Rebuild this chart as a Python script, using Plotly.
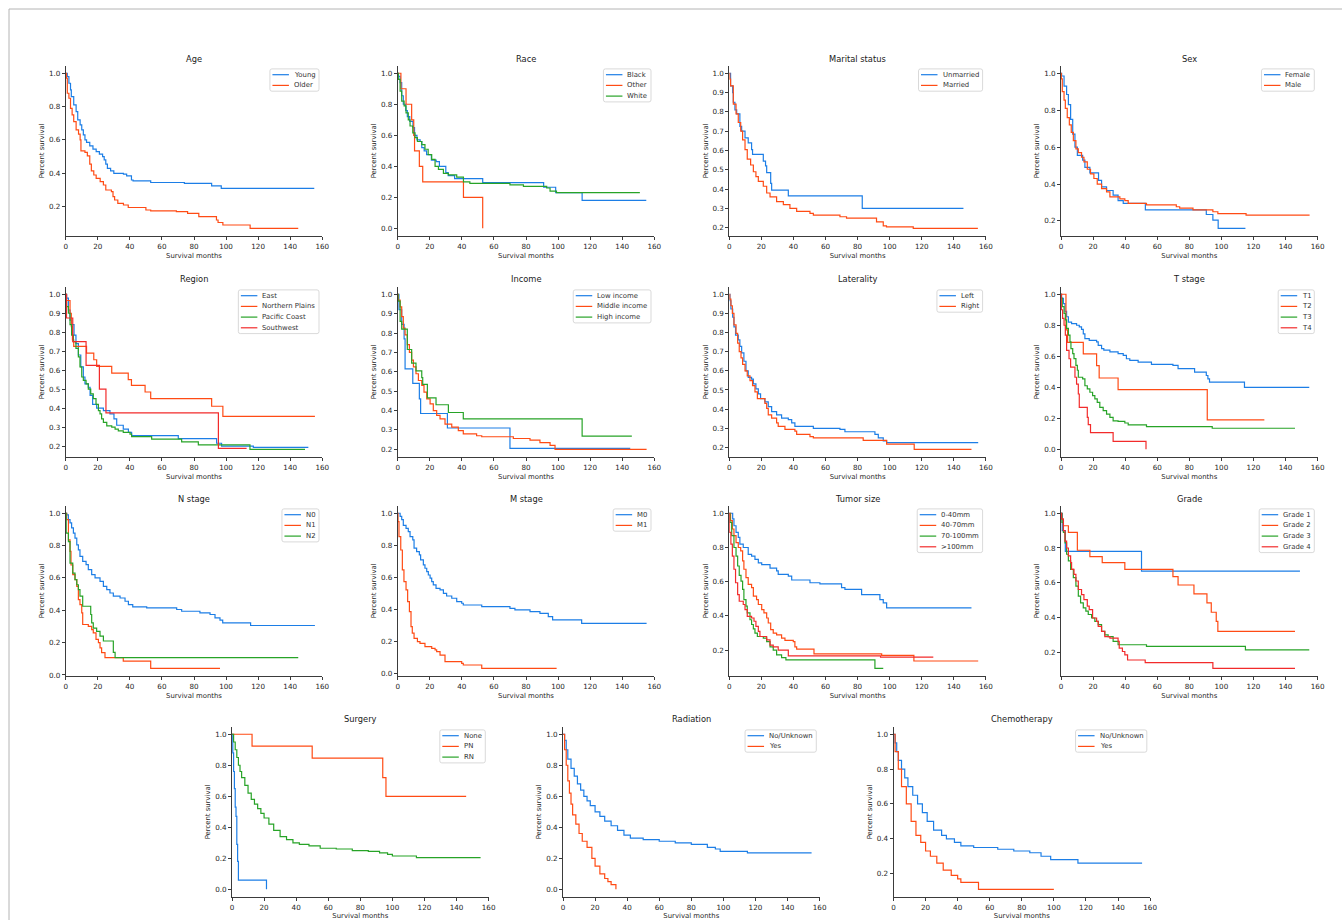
import plotly.graph_objects as go

# ---------------- data ----------------
AGE_YOUNG_T = [0, 1, 2, 3, 3.5, 5, 6.5, 7.5, 9, 10, 11, 12, 13, 15, 17, 19, 21, 23, 24, 25, 26, 28, 30, 36, 38, 41, 42, 53, 74, 91, 97, 155]
AGE_YOUNG_S = [1.0, 0.98, 0.94, 0.90, 0.86, 0.81, 0.77, 0.72, 0.69, 0.66, 0.63, 0.60, 0.585, 0.565, 0.545, 0.53, 0.515, 0.50, 0.48, 0.455, 0.43, 0.415, 0.40, 0.395, 0.385, 0.36, 0.355, 0.345, 0.34, 0.325, 0.31, 0.31]
AGE_OLDER_T = [0, 0.5, 1, 2, 3, 4, 5, 6.5, 8, 9, 9.5, 12, 13.5, 15, 16, 17.5, 19, 21.5, 23.5, 25, 28.5, 29.5, 30.5, 32.5, 36, 39, 50, 53, 69, 76, 83, 94, 95, 98, 115, 145]
AGE_OLDER_S = [1.0, 0.97, 0.88, 0.85, 0.79, 0.75, 0.71, 0.66, 0.635, 0.60, 0.535, 0.525, 0.505, 0.455, 0.415, 0.39, 0.37, 0.35, 0.33, 0.30, 0.29, 0.26, 0.24, 0.22, 0.21, 0.195, 0.18, 0.175, 0.17, 0.16, 0.14, 0.12, 0.105, 0.09, 0.07, 0.07]

RACE_BLACK_T = [0, 0.5, 1.5, 2.5, 3.5, 5, 6, 7.5, 9.5, 10.5, 12, 14, 15, 16.5, 18, 21, 24, 26, 30, 31.5, 35.5, 53, 91, 98.5, 115, 155]
RACE_BLACK_S = [1.0, 0.98, 0.94, 0.855, 0.80, 0.76, 0.72, 0.69, 0.65, 0.60, 0.57, 0.56, 0.52, 0.50, 0.475, 0.44, 0.43, 0.40, 0.36, 0.34, 0.32, 0.295, 0.265, 0.23, 0.18, 0.18]
RACE_OTHER_T = [0, 2, 5.2, 8.7, 10, 10.5, 13.5, 15.6, 41, 53]
RACE_OTHER_S = [1.0, 0.9, 0.8, 0.7, 0.6, 0.5, 0.4, 0.3, 0.2, 0.0]
RACE_WHITE_T = [0, 0.4, 1.5, 2.5, 4, 5.2, 6.6, 7.7, 9.4, 10.8, 12.3, 15, 17, 19, 21.2, 23.3, 25.4, 28.5, 31.6, 36.8, 41, 45, 70, 78.4, 92.9, 95, 99, 151]
RACE_WHITE_S = [1.0, 0.96, 0.885, 0.82, 0.79, 0.745, 0.70, 0.66, 0.615, 0.585, 0.56, 0.54, 0.51, 0.475, 0.445, 0.40, 0.38, 0.355, 0.345, 0.33, 0.30, 0.29, 0.28, 0.27, 0.26, 0.24, 0.23, 0.23]

MAR_UNM_T = [0, 0.8, 2.1, 2.5, 3.5, 4.6, 6.6, 7.7, 9.8, 11.8, 13.9, 14.5, 21.2, 22.6, 23.3, 25.8, 26.4, 36.8, 82.9, 146]
MAR_UNM_S = [1.0, 0.935, 0.90, 0.85, 0.81, 0.79, 0.725, 0.70, 0.665, 0.64, 0.605, 0.58, 0.545, 0.52, 0.485, 0.43, 0.395, 0.365, 0.30, 0.30]
MAR_MAR_T = [0, 0.3, 0.8, 2.5, 4.2, 5.6, 7.1, 8.3, 9.8, 11.2, 13.3, 15, 16.6, 18.1, 21.2, 23.3, 25.4, 29.5, 33.7, 37.8, 42, 50.3, 52.4, 69, 73.1, 91.8, 96, 98, 114.7, 155]
MAR_MAR_S = [1.0, 0.97, 0.935, 0.84, 0.79, 0.745, 0.70, 0.655, 0.605, 0.555, 0.525, 0.49, 0.465, 0.44, 0.415, 0.38, 0.36, 0.335, 0.32, 0.30, 0.285, 0.275, 0.265, 0.257, 0.25, 0.23, 0.21, 0.205, 0.197, 0.197]

SEX_F_T = [0, 0.4, 1.9, 3.5, 4.6, 6, 7.3, 8.7, 10.2, 13.5, 14.9, 18, 23.4, 25.3, 28.4, 32.5, 35.6, 38.8, 52.6, 90.6, 94.7, 98, 115]
SEX_F_S = [1.0, 0.985, 0.93, 0.885, 0.83, 0.75, 0.67, 0.60, 0.555, 0.53, 0.49, 0.46, 0.42, 0.385, 0.365, 0.34, 0.31, 0.295, 0.26, 0.235, 0.205, 0.16, 0.16]
SEX_M_T = [0, 0.2, 0.8, 1.9, 2.7, 3.9, 5.2, 6.4, 7.7, 9.3, 10.8, 12.8, 14.3, 16.4, 18.4, 20.5, 22.6, 25.3, 28.4, 30.5, 36.7, 39.8, 41.9, 53.3, 71.9, 74, 82.3, 94.7, 97.8, 115.4, 155]
SEX_M_S = [1.0, 0.97, 0.90, 0.855, 0.81, 0.76, 0.72, 0.68, 0.635, 0.59, 0.57, 0.545, 0.52, 0.48, 0.455, 0.43, 0.40, 0.375, 0.357, 0.33, 0.32, 0.31, 0.295, 0.287, 0.277, 0.27, 0.26, 0.25, 0.24, 0.232, 0.232]

REG_EAST_T = [0, 0.6, 1.7, 2.7, 3.7, 5.2, 6.4, 7.9, 9.4, 11, 12, 14.1, 15.2, 16.8, 19.3, 23.5, 27.6, 30.1, 31.8, 35.9, 39.1, 41.1, 70.2, 94.1, 97.2, 117, 151.3]
REG_EAST_S = [1.0, 0.98, 0.917, 0.864, 0.84, 0.785, 0.74, 0.68, 0.617, 0.564, 0.528, 0.51, 0.467, 0.42, 0.40, 0.387, 0.37, 0.343, 0.31, 0.29, 0.272, 0.255, 0.24, 0.215, 0.20, 0.193, 0.193]
REG_NP_T = [0, 0.5, 2.7, 3.5, 4.2, 5, 13, 17.5, 19.3, 28.7, 39, 41, 49.5, 53, 91, 98, 155.4]
REG_NP_S = [1.0, 0.967, 0.90, 0.83, 0.76, 0.725, 0.69, 0.655, 0.62, 0.585, 0.55, 0.52, 0.485, 0.45, 0.41, 0.357, 0.357]
REG_PC_T = [0, 0.3, 0.6, 1.7, 2.7, 3.7, 4.8, 6.4, 7.9, 8.9, 10, 11, 12.7, 14.1, 15.6, 17.2, 18.9, 20.4, 21.4, 22.4, 23.5, 25.6, 28.7, 30.8, 32.8, 35.9, 40.1, 41.1, 53.6, 72.3, 82.7, 114.9, 149.2]
REG_PC_S = [1.0, 0.96, 0.935, 0.90, 0.84, 0.785, 0.75, 0.715, 0.67, 0.617, 0.564, 0.546, 0.528, 0.50, 0.475, 0.45, 0.42, 0.387, 0.37, 0.343, 0.325, 0.307, 0.30, 0.29, 0.28, 0.272, 0.263, 0.25, 0.237, 0.222, 0.207, 0.183, 0.183]
REG_SW_T = [0, 0.5, 4.4, 12.7, 21, 25.1, 95.2, 112.8]
REG_SW_S = [1.0, 0.875, 0.75, 0.625, 0.5, 0.375, 0.188, 0.188]

INC_LOW_T = [0, 0.8, 2.5, 4, 4.6, 9.4, 13.5, 14.3, 31, 70, 145]
INC_LOW_S = [1.0, 0.92, 0.845, 0.77, 0.615, 0.54, 0.46, 0.385, 0.31, 0.205, 0.205]
INC_MID_T = [0, 0.4, 1.5, 2.5, 3.5, 4.6, 6, 7.3, 8.7, 9.8, 11.4, 12.9, 15, 16.4, 18.1, 20.2, 22.2, 24.3, 26.4, 29.5, 33.7, 37.8, 40.9, 49.2, 52.4, 72.1, 82.5, 88.7, 95, 98.1, 155.2]
INC_MID_S = [1.0, 0.97, 0.935, 0.885, 0.825, 0.79, 0.74, 0.70, 0.66, 0.625, 0.59, 0.555, 0.53, 0.495, 0.46, 0.435, 0.40, 0.375, 0.357, 0.33, 0.315, 0.297, 0.28, 0.27, 0.265, 0.256, 0.248, 0.235, 0.22, 0.20, 0.20]
INC_HIGH_T = [0, 0.2, 1.5, 2.5, 6, 8.7, 11.4, 15, 15.6, 18.5, 23.9, 31.6, 40.9, 115, 146]
INC_HIGH_S = [1.0, 0.965, 0.86, 0.82, 0.715, 0.645, 0.605, 0.57, 0.535, 0.465, 0.43, 0.39, 0.357, 0.268, 0.268]

LAT_L_T = [0, 0.4, 1, 2.1, 2.9, 3.9, 5.6, 6.6, 7.7, 9.1, 10.4, 11.8, 13.9, 15, 16.6, 18.1, 19.5, 22.2, 24.3, 26.4, 29.5, 32.6, 36.8, 38.9, 40.9, 52.4, 69, 72.1, 90.8, 92.9, 96, 98.1, 155.2]
LAT_L_S = [1.0, 0.966, 0.923, 0.88, 0.83, 0.787, 0.762, 0.728, 0.694, 0.65, 0.60, 0.566, 0.557, 0.532, 0.506, 0.48, 0.455, 0.438, 0.413, 0.387, 0.37, 0.353, 0.345, 0.328, 0.31, 0.30, 0.294, 0.282, 0.268, 0.25, 0.234, 0.225, 0.225]
LAT_R_T = [0, 0.3, 1, 1.9, 2.9, 4.2, 5.2, 6.2, 7.3, 8.3, 9.8, 11.2, 12.9, 14.5, 16, 17.5, 22.2, 23.3, 24.3, 26.4, 29.5, 30.5, 34.7, 40.9, 42, 50.3, 52.4, 83.5, 98.1, 115.3, 151]
LAT_R_S = [1.0, 0.975, 0.94, 0.90, 0.84, 0.796, 0.745, 0.70, 0.668, 0.634, 0.60, 0.574, 0.549, 0.523, 0.49, 0.455, 0.43, 0.404, 0.37, 0.353, 0.328, 0.31, 0.294, 0.285, 0.268, 0.256, 0.25, 0.237, 0.217, 0.19, 0.19]

T1_T = [0, 0.4, 1.5, 2.5, 3.5, 4.6, 6.6, 9.7, 11.4, 12.8, 13.9, 14.9, 17.6, 22.2, 23.2, 25.3, 26.7, 30.5, 35.6, 38.8, 40.8, 42.9, 48.1, 56.4, 69.8, 73, 83.3, 90.6, 91.6, 92.6, 114.4, 154.8]
T1_S = [1.0, 0.974, 0.94, 0.89, 0.855, 0.82, 0.81, 0.80, 0.79, 0.773, 0.745, 0.714, 0.703, 0.693, 0.67, 0.65, 0.64, 0.628, 0.617, 0.606, 0.584, 0.574, 0.563, 0.548, 0.541, 0.52, 0.498, 0.476, 0.455, 0.433, 0.40, 0.40]
T2_T = [0, 3.1, 4.1, 13.9, 22.2, 23.8, 35.6, 91.2, 126.8]
T2_S = [1.0, 0.77, 0.69, 0.615, 0.54, 0.46, 0.385, 0.19, 0.19]
T3_T = [0, 0.2, 0.8, 1.9, 2.7, 3.5, 4.6, 5.6, 6.2, 7.3, 8.1, 9.3, 10.2, 10.8, 13.5, 14.9, 16.4, 18, 19.7, 21.1, 22.6, 24.2, 26.3, 28.4, 30.5, 32.5, 35.6, 39.8, 41.9, 53.3, 94.3, 145.9]
T3_S = [1.0, 0.975, 0.92, 0.877, 0.835, 0.78, 0.736, 0.693, 0.65, 0.617, 0.585, 0.541, 0.51, 0.465, 0.455, 0.41, 0.39, 0.368, 0.346, 0.325, 0.303, 0.27, 0.25, 0.227, 0.206, 0.184, 0.18, 0.17, 0.158, 0.147, 0.136, 0.136]
T4_T = [0, 0.2, 1, 1.9, 2.7, 3.5, 5, 6, 8.7, 9.7, 10.8, 11.4, 16.4, 17, 18.4, 32.5, 53]
T4_S = [1.0, 0.90, 0.844, 0.80, 0.736, 0.638, 0.584, 0.53, 0.465, 0.42, 0.357, 0.27, 0.206, 0.16, 0.108, 0.052, 0.0]

N0_T = [0, 0.6, 1.7, 2.7, 3.7, 4.8, 5.8, 6.9, 7.9, 8.9, 10.6, 12.7, 14.1, 16.2, 18.3, 21.4, 23.5, 25.6, 27.6, 29.7, 33.9, 37, 39.1, 41.8, 50.5, 69.2, 72.3, 83.7, 90, 93.1, 96.2, 97.9, 115.3, 155.4]
N0_S = [1.0, 0.99, 0.96, 0.94, 0.91, 0.877, 0.846, 0.805, 0.774, 0.733, 0.702, 0.682, 0.651, 0.62, 0.60, 0.579, 0.548, 0.528, 0.507, 0.487, 0.476, 0.456, 0.435, 0.421, 0.415, 0.405, 0.394, 0.384, 0.374, 0.353, 0.339, 0.322, 0.306, 0.306]
N1_T = [0, 0.6, 1.7, 2.7, 3.3, 4.4, 5.8, 6.9, 7.9, 8.9, 10, 10.6, 14.1, 16.2, 17.2, 18.9, 20.4, 21.4, 22.4, 24.5, 35.9, 53, 96.2]
N1_S = [1.0, 0.96, 0.836, 0.764, 0.68, 0.62, 0.59, 0.548, 0.466, 0.435, 0.384, 0.312, 0.30, 0.28, 0.26, 0.22, 0.20, 0.168, 0.138, 0.107, 0.086, 0.041, 0.041]
N2_T = [0, 0.3, 1.7, 2.7, 4.4, 5.8, 6.9, 7.9, 8.9, 10.6, 15.6, 16.2, 17.2, 19.3, 21.4, 23.5, 29.7, 30.8, 145]
N2_S = [1.0, 0.877, 0.825, 0.692, 0.63, 0.59, 0.558, 0.528, 0.487, 0.425, 0.374, 0.322, 0.29, 0.27, 0.24, 0.21, 0.14, 0.107, 0.107]

M0_T = [0, 1.5, 2.5, 3.5, 5.2, 6.6, 7.7, 9.4, 10.2, 11.8, 13.5, 14.3, 16, 17, 18.1, 19.1, 20.2, 21.2, 22.2, 23.9, 26.4, 28.5, 30.5, 33.7, 36.8, 39.9, 40.9, 52.4, 70, 73.1, 82.5, 88.7, 93.9, 96.6, 114.7, 155.2]
M0_S = [1.0, 0.98, 0.96, 0.925, 0.906, 0.886, 0.854, 0.834, 0.782, 0.761, 0.74, 0.709, 0.678, 0.657, 0.636, 0.615, 0.595, 0.574, 0.553, 0.532, 0.522, 0.50, 0.484, 0.47, 0.449, 0.439, 0.428, 0.418, 0.407, 0.397, 0.387, 0.376, 0.355, 0.335, 0.314, 0.314]
M1_T = [0, 0.2, 0.8, 1.9, 2.9, 3.9, 5.2, 6.2, 7.3, 8.3, 9.1, 10.2, 12.3, 13.9, 17, 21.2, 23.3, 24.3, 26.4, 29.5, 39.9, 40.9, 52.4, 99.1]
M1_S = [1.0, 0.948, 0.854, 0.771, 0.647, 0.574, 0.522, 0.449, 0.387, 0.293, 0.252, 0.22, 0.20, 0.189, 0.168, 0.158, 0.148, 0.137, 0.116, 0.075, 0.064, 0.054, 0.033, 0.033]

TS_0_T = [0, 2.1, 2.9, 4.2, 5.6, 6.6, 8.7, 11.8, 13.9, 16, 18.1, 20.2, 25.4, 29.5, 30.5, 36.8, 38.9, 50.3, 56.5, 70, 72.1, 82.5, 93.9, 96, 98.1, 151]
TS_0_S = [1.0, 0.967, 0.927, 0.888, 0.859, 0.82, 0.80, 0.76, 0.75, 0.73, 0.71, 0.70, 0.68, 0.663, 0.643, 0.633, 0.61, 0.594, 0.588, 0.565, 0.555, 0.525, 0.496, 0.476, 0.447, 0.447]
TS_40_T = [0, 0.8, 1.9, 2.9, 4.2, 5.6, 7.1, 8.3, 9.1, 10.4, 11.8, 13.9, 15, 17, 18.1, 20.2, 21.6, 23.3, 24.3, 25.8, 27.4, 29.5, 32.6, 34.7, 39.9, 40.9, 42, 52.8, 95, 115.1, 155.2]
TS_40_S = [1.0, 0.957, 0.908, 0.869, 0.829, 0.80, 0.78, 0.722, 0.673, 0.624, 0.584, 0.565, 0.516, 0.496, 0.467, 0.437, 0.418, 0.388, 0.359, 0.32, 0.30, 0.29, 0.27, 0.257, 0.25, 0.22, 0.206, 0.178, 0.17, 0.137, 0.137]
TS_70_T = [0, 0.4, 1.5, 2.9, 4.2, 5.2, 6.2, 7.3, 8.3, 9.1, 10.4, 11.2, 12.9, 13.9, 15, 16, 17.5, 21.2, 23.3, 25.4, 27.4, 29.5, 32.6, 35.3, 90.8, 96]
TS_70_S = [1.0, 0.947, 0.869, 0.80, 0.75, 0.692, 0.637, 0.604, 0.555, 0.496, 0.457, 0.418, 0.378, 0.35, 0.324, 0.30, 0.28, 0.27, 0.25, 0.22, 0.20, 0.173, 0.157, 0.143, 0.094, 0.094]
TS_100_T = [0, 0.1, 1, 1.9, 2.9, 3.9, 5.2, 6.2, 8.7, 9.8, 11.2, 13.9, 15.4, 16.6, 18.1, 19.1, 23.3, 25.4, 27.4, 30.5, 36.8, 94.3, 127.2]
TS_100_S = [1.0, 0.888, 0.82, 0.75, 0.673, 0.594, 0.525, 0.486, 0.467, 0.437, 0.398, 0.388, 0.369, 0.339, 0.31, 0.28, 0.26, 0.23, 0.22, 0.20, 0.167, 0.16, 0.16]

G1_T = [0, 0.8, 2.7, 50.2, 149]
G1_S = [1.0, 0.90, 0.78, 0.667, 0.667]
G2_T = [0, 0.3, 1.5, 4.6, 10.2, 18, 25.7, 39.8, 69.8, 73, 82.9, 91, 93.7, 96.8, 97.8, 145.9]
G2_S = [1.0, 0.967, 0.928, 0.89, 0.787, 0.75, 0.716, 0.677, 0.635, 0.587, 0.536, 0.484, 0.43, 0.378, 0.32, 0.32]
G3_T = [0, 0.6, 1.5, 2.5, 3.5, 4.6, 6, 7.7, 9.3, 10.8, 12.2, 13.9, 15.5, 17, 19.1, 21.1, 23.2, 25.3, 27.3, 29.4, 32.5, 35.6, 53.3, 115, 154.8]
G3_S = [1.0, 0.948, 0.89, 0.83, 0.764, 0.726, 0.677, 0.629, 0.58, 0.523, 0.484, 0.455, 0.436, 0.417, 0.397, 0.378, 0.359, 0.32, 0.30, 0.29, 0.262, 0.243, 0.233, 0.213, 0.213]
G4_T = [0, 0.4, 1.5, 2.5, 3.5, 4.6, 6, 6.6, 8.1, 9.3, 10.8, 12.8, 14.3, 16.4, 17.6, 19.7, 22.2, 23.2, 25.3, 27.3, 30.5, 35.6, 36.3, 38.3, 39.8, 41.5, 52.5, 94.7, 145.9]
G4_S = [1.0, 0.967, 0.90, 0.84, 0.80, 0.755, 0.716, 0.677, 0.648, 0.61, 0.561, 0.532, 0.503, 0.465, 0.445, 0.397, 0.378, 0.349, 0.32, 0.29, 0.281, 0.262, 0.223, 0.204, 0.184, 0.155, 0.14, 0.107, 0.107]

SURG_NONE_T = [0, 0.5, 1, 1.5, 2, 2.5, 3, 3.5, 4, 21.5]
SURG_NONE_S = [1.0, 0.88, 0.76, 0.65, 0.53, 0.47, 0.29, 0.18, 0.06, 0.0]
SURG_PN_T = [0, 12.5, 50, 94, 96, 146]
SURG_PN_S = [1.0, 0.923, 0.846, 0.72, 0.60, 0.60]
SURG_RN_T = [0, 1, 2, 3, 4, 5, 6, 8, 10, 12, 14, 16, 18, 20, 23, 26, 30, 34, 38, 42, 48, 55, 65, 75, 85, 92, 97, 100, 115, 155]
SURG_RN_S = [1.0, 0.95, 0.9, 0.85, 0.8, 0.76, 0.72, 0.67, 0.62, 0.58, 0.55, 0.52, 0.49, 0.46, 0.42, 0.38, 0.34, 0.32, 0.30, 0.29, 0.28, 0.265, 0.26, 0.25, 0.245, 0.235, 0.225, 0.215, 0.205, 0.205]

RAD_NO_T = [0, 1, 2, 3, 5, 7, 9, 11, 13, 15, 17, 20, 23, 26, 30, 34, 38, 42, 50, 60, 70, 80, 90, 95, 98, 115, 155]
RAD_NO_S = [1.0, 0.96, 0.9, 0.84, 0.78, 0.73, 0.68, 0.64, 0.6, 0.57, 0.54, 0.5, 0.47, 0.44, 0.41, 0.38, 0.35, 0.33, 0.32, 0.31, 0.30, 0.29, 0.27, 0.26, 0.245, 0.235, 0.235]
RAD_YES_T = [0, 1, 2, 3, 4, 5, 6, 8, 10, 12, 15, 18, 20, 23, 26, 28, 30, 33]
RAD_YES_S = [1.0, 0.9, 0.8, 0.7, 0.62, 0.55, 0.48, 0.42, 0.36, 0.31, 0.27, 0.2, 0.15, 0.1, 0.07, 0.05, 0.03, 0.0]

CHEMO_NO_T = [0, 1, 2, 3, 5, 7, 9, 12, 15, 18, 21, 25, 30, 33, 38, 42, 50, 65, 75, 85, 92, 98, 115, 155]
CHEMO_NO_S = [1.0, 0.95, 0.9, 0.85, 0.8, 0.75, 0.7, 0.65, 0.6, 0.55, 0.5, 0.45, 0.42, 0.4, 0.38, 0.36, 0.35, 0.34, 0.33, 0.32, 0.3, 0.28, 0.26, 0.26]
CHEMO_YES_T = [0, 1, 3, 5, 8, 11, 14, 17, 20, 23, 27, 31, 36, 40, 42, 53, 100]
CHEMO_YES_S = [1.0, 0.9, 0.8, 0.7, 0.6, 0.5, 0.42, 0.38, 0.33, 0.3, 0.26, 0.22, 0.19, 0.17, 0.15, 0.11, 0.11]

X_TICKS = [0, 20, 40, 60, 80, 100, 120, 140, 160]

# ---------------- styling ----------------
BLUE, ORANGE, GREEN, RED = "#1c7ee6", "#ff4b14", "#27a327", "#f22b2b"
FONT = "DejaVu Sans"
INK = "#262626"

PANELS = [
    ("Age", 0.2, [("Young", AGE_YOUNG_T, AGE_YOUNG_S, BLUE), ("Older", AGE_OLDER_T, AGE_OLDER_S, ORANGE)]),
    ("Race", 0.2, [("Black", RACE_BLACK_T, RACE_BLACK_S, BLUE), ("Other", RACE_OTHER_T, RACE_OTHER_S, ORANGE),
                   ("White", RACE_WHITE_T, RACE_WHITE_S, GREEN)]),
    ("Marital status", 0.1, [("Unmarried", MAR_UNM_T, MAR_UNM_S, BLUE), ("Married", MAR_MAR_T, MAR_MAR_S, ORANGE)]),
    ("Sex", 0.2, [("Female", SEX_F_T, SEX_F_S, BLUE), ("Male", SEX_M_T, SEX_M_S, ORANGE)]),
    ("Region", 0.1, [("East", REG_EAST_T, REG_EAST_S, BLUE), ("Northern Plains", REG_NP_T, REG_NP_S, ORANGE),
                     ("Pacific Coast", REG_PC_T, REG_PC_S, GREEN), ("Southwest", REG_SW_T, REG_SW_S, RED)]),
    ("Income", 0.1, [("Low income", INC_LOW_T, INC_LOW_S, BLUE), ("Middle income", INC_MID_T, INC_MID_S, ORANGE),
                     ("High income", INC_HIGH_T, INC_HIGH_S, GREEN)]),
    ("Laterality", 0.1, [("Left", LAT_L_T, LAT_L_S, BLUE), ("Right", LAT_R_T, LAT_R_S, ORANGE)]),
    ("T stage", 0.2, [("T1", T1_T, T1_S, BLUE), ("T2", T2_T, T2_S, ORANGE), ("T3", T3_T, T3_S, GREEN), ("T4", T4_T, T4_S, RED)]),
    ("N stage", 0.2, [("N0", N0_T, N0_S, BLUE), ("N1", N1_T, N1_S, ORANGE), ("N2", N2_T, N2_S, GREEN)]),
    ("M stage", 0.2, [("M0", M0_T, M0_S, BLUE), ("M1", M1_T, M1_S, ORANGE)]),
    ("Tumor size", 0.2, [("0-40mm", TS_0_T, TS_0_S, BLUE), ("40-70mm", TS_40_T, TS_40_S, ORANGE),
                         ("70-100mm", TS_70_T, TS_70_S, GREEN), (">100mm", TS_100_T, TS_100_S, RED)]),
    ("Grade", 0.2, [("Grade 1", G1_T, G1_S, BLUE), ("Grade 2", G2_T, G2_S, ORANGE), ("Grade 3", G3_T, G3_S, GREEN),
                    ("Grade 4", G4_T, G4_S, RED)]),
    ("Surgery", 0.2, [("None", SURG_NONE_T, SURG_NONE_S, BLUE), ("PN", SURG_PN_T, SURG_PN_S, ORANGE),
                      ("RN", SURG_RN_T, SURG_RN_S, GREEN)]),
    ("Radiation", 0.2, [("No/Unknown", RAD_NO_T, RAD_NO_S, BLUE), ("Yes", RAD_YES_T, RAD_YES_S, ORANGE)]),
    ("Chemotherapy", 0.2, [("No/Unknown", CHEMO_NO_T, CHEMO_NO_S, BLUE), ("Yes", CHEMO_YES_T, CHEMO_YES_S, ORANGE)]),
]

# page pixel geometry (body margin removed by post_script so figure fills the window)
W, H = 1342, 920
COL_X = [65.7, 397.7, 729.3, 1061.0]
ROW4_X = [232.0, 563.0, 893.5]
AX_W = 256.6
ROW_TOP = [65.5, 286.5, 505.5, 726.5]
AX_H = 170.6
TITLE_Y = [59.3, 279.3, 499.3, 719.3]


def fx(px):
    return px / W


def fy(py):
    return 1 - py / H


CW = {' ': .318, '.': .318, '-': .361, '>': .838, '/': .337,
      'a': .613, 'b': .635, 'c': .550, 'd': .635, 'e': .615, 'f': .352, 'g': .635, 'h': .634, 'i': .278,
      'j': .278, 'k': .579, 'l': .278, 'm': .974, 'n': .634, 'o': .612, 'p': .635, 'q': .635, 'r': .411,
      's': .521, 't': .392, 'u': .634, 'v': .592, 'w': .818, 'x': .592, 'y': .592, 'z': .525,
      'B': .686, 'C': .698, 'E': .632, 'F': .575, 'G': .775, 'H': .752, 'L': .557, 'M': .863, 'N': .748,
      'O': .787, 'P': .603, 'R': .695, 'S': .635, 'T': .611, 'U': .732, 'W': .989, 'Y': .611}


def text_w(s, fs):
    return sum(CW.get(c, .636) for c in s) * fs


def rounded_rect(x0, y0, x1, y1, r):
    pts = [("M", x0 + r, y0), ("L", x1 - r, y0), ("Q", x1, y0, x1, y0 + r), ("L", x1, y1 - r),
           ("Q", x1, y1, x1 - r, y1), ("L", x0 + r, y1), ("Q", x0, y1, x0, y1 - r), ("L", x0, y0 + r),
           ("Q", x0, y0, x0 + r, y0)]
    out = []
    for p in pts:
        if p[0] == "Q":
            out.append("Q%.5f,%.5f %.5f,%.5f" % (fx(p[1]), fy(p[2]), fx(p[3]), fy(p[4])))
        else:
            out.append("%s%.5f,%.5f" % (p[0], fx(p[1]), fy(p[2])))
    return " ".join(out) + " Z"


fig = go.Figure()
layout = dict(width=W, height=H, margin=dict(l=0, r=0, t=0, b=0), autosize=False,
              template="none", paper_bgcolor="white", plot_bgcolor="white", showlegend=False,
              font=dict(family=FONT, color=INK))
shapes, annotations = [], []

LEG_FS, TICK_FS, LAB_FS, TITLE_FS = 6.9, 7.2, 6.9, 8.3

for i, (title, dtick, curves) in enumerate(PANELS):
    k = i + 1
    row = i // 4 if i < 12 else 3
    x0 = COL_X[i % 4] if i < 12 else ROW4_X[i - 12]
    top = ROW_TOP[row]
    xa, ya = ("x", "y") if k == 1 else ("x%d" % k, "y%d" % k)

    all_s = [v for c in curves for v in c[2]]
    lo, hi = min(all_s), max(all_s)
    pad = (hi - lo) * 0.05

    for name, t, s, col in curves:
        fig.add_trace(go.Scatter(x=t, y=s, mode="lines", name=name, xaxis=xa, yaxis=ya,
                                 line=dict(shape="hv", color=col, width=1.2), hoverinfo="skip",
                                 showlegend=False))

    common = dict(showline=True, linecolor=INK, linewidth=0.9, ticks="outside", ticklen=3, tickwidth=0.9,
                  tickcolor=INK, showgrid=False, zeroline=False, automargin=False,
                  tickfont=dict(size=TICK_FS, family=FONT, color=INK))
    layout["xaxis" if k == 1 else "xaxis%d" % k] = dict(
        common, domain=[fx(x0), fx(x0 + AX_W)], anchor=ya, range=[0, 160], tickvals=X_TICKS,
        title=dict(text="Survival months", font=dict(size=LAB_FS, family=FONT, color=INK), standoff=3))
    layout["yaxis" if k == 1 else "yaxis%d" % k] = dict(
        common, domain=[fy(top + AX_H), fy(top)], anchor=xa, range=[lo - pad, hi + pad],
        tick0=0, dtick=dtick, tickformat=".1f",
        title=dict(text="Percent survival", font=dict(size=LAB_FS, family=FONT, color=INK), standoff=3))

    # subplot title
    annotations.append(dict(text=title, x=fx(x0 + AX_W / 2), y=fy(TITLE_Y[row]), xref="paper", yref="paper",
                            xanchor="center", yanchor="middle", showarrow=False,
                            font=dict(size=TITLE_FS, family=FONT, color="#1a1a1a")))

    # matplotlib-style legend box in the upper right corner
    tw = max(text_w(c[0], LEG_FS) for c in curves)
    bx1 = x0 + AX_W - 3.3
    bx0 = bx1 - (2.5 + 16.5 + 5.0 + tw + 3.5)
    by0 = top + 3.4
    row_h = 10.7
    by1 = by0 + 5.8 + row_h * (len(curves) - 1) + 5.8
    shapes.append(dict(type="path", path=rounded_rect(bx0, by0, bx1, by1, 2.0), xref="paper", yref="paper",
                       line=dict(color="#cfcfcf", width=0.8), fillcolor="rgba(255,255,255,0.85)", layer="above"))
    for j, (name, t, s, col) in enumerate(curves):
        cy = by0 + 5.8 + row_h * j
        shapes.append(dict(type="line", xref="paper", yref="paper", x0=fx(bx0 + 2.5), x1=fx(bx0 + 19.0),
                           y0=fy(cy), y1=fy(cy), line=dict(color=col, width=1.2), layer="above"))
        annotations.append(dict(text=name, x=fx(bx0 + 23.0), y=fy(cy), xref="paper", yref="paper",
                                xanchor="left", yanchor="middle", showarrow=False, borderpad=0,
                                font=dict(size=LEG_FS, family=FONT, color="#333333")))

# outer frame (top and left edge visible in the reference)
shapes.append(dict(type="line", xref="paper", yref="paper", x0=fx(9), x1=fx(1342), y0=fy(9), y1=fy(9),
                   line=dict(color="#b4b4b4", width=1)))
shapes.append(dict(type="line", xref="paper", yref="paper", x0=fx(9), x1=fx(9), y0=fy(9), y1=fy(920),
                   line=dict(color="#b4b4b4", width=1)))

layout["shapes"] = shapes
layout["annotations"] = annotations
fig.update_layout(**layout)
fig.write_html("out.html", config={"displayModeBar": False, "staticPlot": True},
               post_script="document.body.style.margin='0px';document.body.style.overflow='hidden';")
